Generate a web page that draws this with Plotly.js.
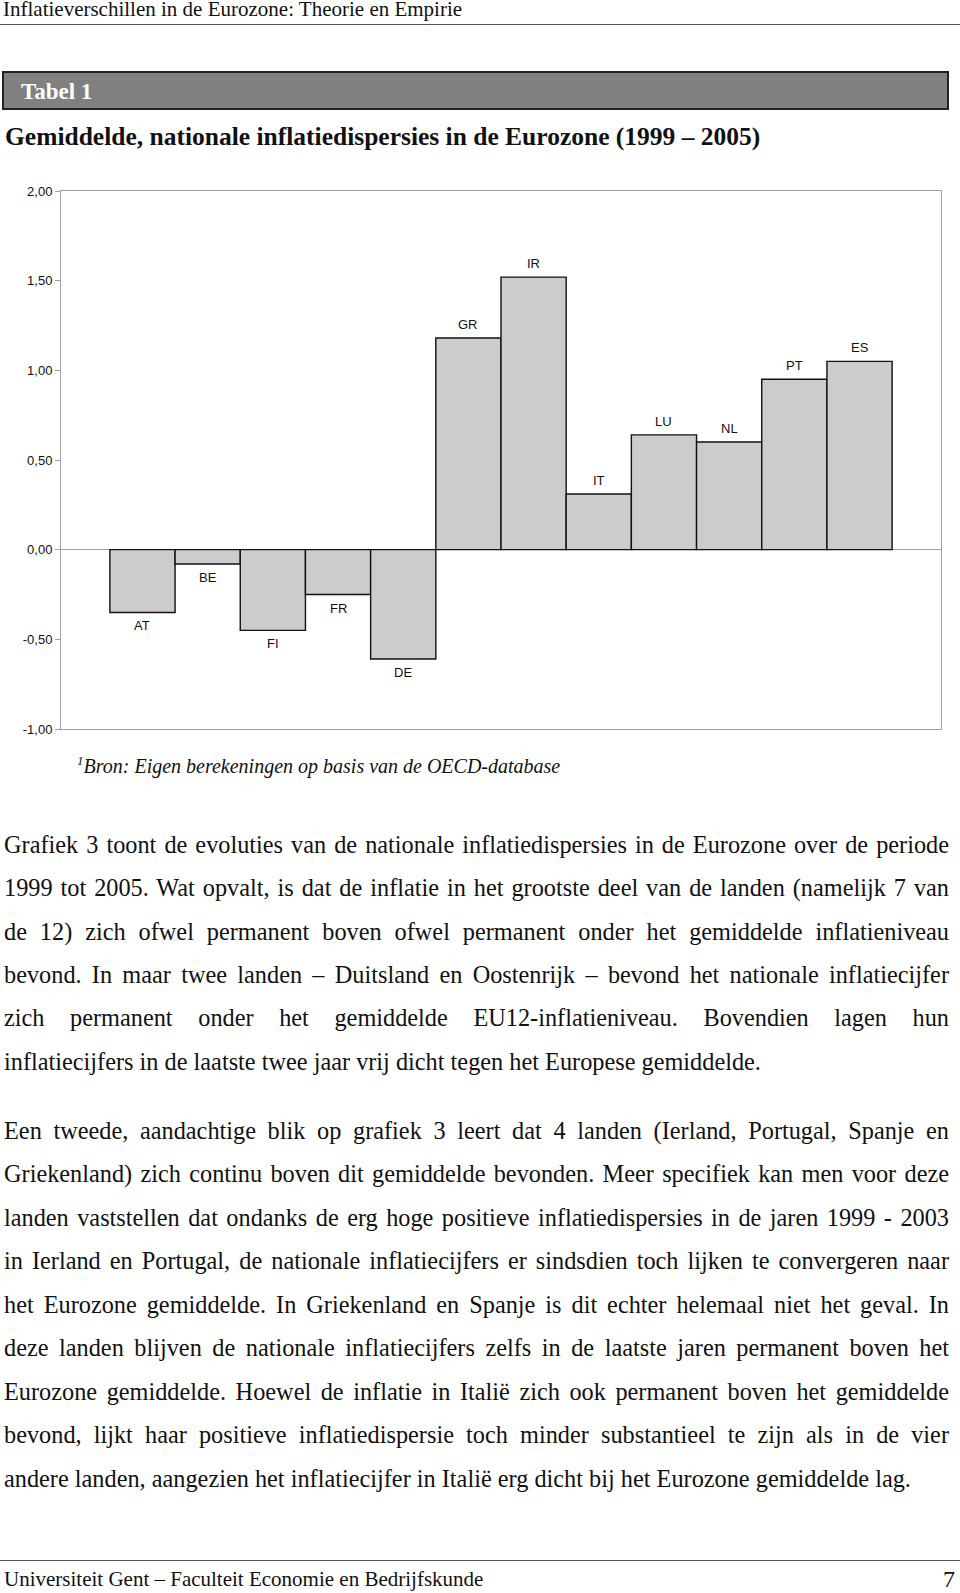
<!DOCTYPE html>
<html>
<head>
<meta charset="utf-8">
<script src="https://cdn.plot.ly/plotly-3.0.1.min.js"></script>
<style>
  html, body { margin: 0; padding: 0; background: #fff; }
  body { width: 960px; height: 1593px; position: relative; overflow: hidden;
         font-family: "Liberation Serif", "Times New Roman", serif; color: #111; }
  .abs { position: absolute; white-space: nowrap; line-height: 1; }
  .hline { position: absolute; left: 0; width: 960px; height: 1.4px; background: #555; }
  .bl { position: absolute; left: 4px; width: 945px; font-size: 24.3px; line-height: 24.3px;
        text-align: justify; text-align-last: justify; white-space: nowrap; }
  .bl.last { text-align: left; text-align-last: left; }
  #chart { position: absolute; left: 0; top: 175px; width: 960px; height: 570px; }
</style>
</head>
<body>
<div class="abs" style="left:3px; top:0px; font-size:21px; line-height:18px;">Inflatieverschillen in de Eurozone: Theorie en Empirie</div>
<div class="hline" style="top:23.5px;"></div>

<div style="position:absolute; left:2px; top:71px; width:943px; height:35px; background:#808080; border:2px solid #222;"></div>
<div class="abs" style="left:21px; top:79.7px; font-size:23px; font-weight:bold; color:#fff;">Tabel 1</div>
<div class="abs" style="left:5px; top:124.3px; font-size:25.5px; font-weight:bold;">Gemiddelde, nationale inflatiedispersies in de Eurozone (1999 – 2005)</div>

<div id="chart"></div>

<div class="abs" style="left:77px; top:756.3px; font-size:20px; font-style:italic;"><span style="font-size:13px; position:relative; top:-8px;">1</span>Bron: Eigen berekeningen op basis van de OECD-database</div>

<div id="text"></div>

<div class="hline" style="top:1559.5px;"></div>
<div class="abs" style="left:4px; top:1569.4px; font-size:21px;">Universiteit Gent – Faculteit Economie en Bedrijfskunde</div>
<div class="abs" style="right:5px; top:1567px; font-size:24px;">7</div>

<script>
// ---- chart data ----
const countries = ['AT','BE','FI','FR','DE','GR','IR','IT','LU','NL','PT','ES'];
const dispersion = [-0.35, -0.08, -0.45, -0.25, -0.61, 1.18, 1.52, 0.31, 0.64, 0.60, 0.95, 1.05];
const yTickVals = [-1, -0.5, 0, 0.5, 1, 1.5, 2];
const yTickText = ['-1,00', '-0,50', '0,00', '0,50', '1,00', '1,50', '2,00'];

// ---- page text ----
const para1 = [
  'Grafiek 3 toont de evoluties van de nationale inflatiedispersies in de Eurozone over de periode',
  '1999 tot 2005. Wat opvalt, is dat de inflatie in het grootste deel van de landen (namelijk 7 van',
  'de 12) zich ofwel permanent boven ofwel permanent onder het gemiddelde inflatieniveau',
  'bevond. In maar twee landen – Duitsland en Oostenrijk – bevond het nationale inflatiecijfer',
  'zich permanent onder het gemiddelde EU12-inflatieniveau. Bovendien lagen hun',
  'inflatiecijfers in de laatste twee jaar vrij dicht tegen het Europese gemiddelde.'
];
const para2 = [
  'Een tweede, aandachtige blik op grafiek 3 leert dat 4 landen (Ierland, Portugal, Spanje en',
  'Griekenland) zich continu boven dit gemiddelde bevonden. Meer specifiek kan men voor deze',
  'landen vaststellen dat ondanks de erg hoge positieve inflatiedispersies in de jaren 1999 - 2003',
  'in Ierland en Portugal, de nationale inflatiecijfers er sindsdien toch lijken te convergeren naar',
  'het Eurozone gemiddelde. In Griekenland en Spanje is dit echter helemaal niet het geval. In',
  'deze landen blijven de nationale inflatiecijfers zelfs in de laatste jaren permanent boven het',
  'Eurozone gemiddelde. Hoewel de inflatie in Italië zich ook permanent boven het gemiddelde',
  'bevond, lijkt haar positieve inflatiedispersie toch minder substantieel te zijn als in de vier',
  'andere landen, aangezien het inflatiecijfer in Italië erg dicht bij het Eurozone gemiddelde lag.'
];

(function renderText() {
  const host = document.getElementById('text');
  const step = 43.45;
  function addPara(lines, firstBaseline) {
    lines.forEach((t, i) => {
      const d = document.createElement('div');
      d.className = 'bl' + (i === lines.length - 1 ? ' last' : '');
      d.style.top = (firstBaseline + i * step - 20.35) + 'px';
      d.textContent = t;
      host.appendChild(d);
    });
  }
  addPara(para1, 853);
  addPara(para2, 1139.3);
})();

const trace = {
  type: 'bar',
  x: countries,
  y: dispersion,
  marker: { color: '#cccccc', line: { color: '#111111', width: 1.4 } },
  hoverinfo: 'x+y'
};

const annotations = countries.map((c, i) => ({
  x: c, y: dispersion[i], xref: 'x', yref: 'y',
  text: c, showarrow: false,
  yanchor: 'middle', xanchor: 'center',
  yshift: dispersion[i] >= 0 ? 13.5 : -13.5,
  font: { family: 'Liberation Sans, Arial, sans-serif', size: 13, color: '#111' }
}));

const layout = {
  width: 960, height: 570,
  margin: { l: 61, r: 19, t: 16, b: 16, pad: 0 },
  paper_bgcolor: 'rgba(0,0,0,0)',
  plot_bgcolor: '#ffffff',
  showlegend: false,
  bargap: 0,
  font: { family: 'Liberation Sans, Arial, sans-serif', size: 13, color: '#111' },
  xaxis: {
    type: 'category',
    range: [-1.25, 12.25],
    showticklabels: false, ticks: '', showgrid: false, zeroline: false,
    showline: true, linecolor: '#a0a0a0', linewidth: 1, mirror: true,
    fixedrange: true
  },
  yaxis: {
    range: [-1, 2],
    tickvals: yTickVals, ticktext: yTickText,
    ticks: 'outside', ticklen: 5, tickcolor: '#a0a0a0', tickwidth: 1,
    showgrid: false,
    zeroline: true, zerolinecolor: '#a0a0a0', zerolinewidth: 1,
    showline: true, linecolor: '#a0a0a0', linewidth: 1, mirror: true,
    tickfont: { family: 'Liberation Sans, Arial, sans-serif', size: 13, color: '#111' },
    fixedrange: true
  },
  annotations: annotations
};

Plotly.newPlot('chart', [trace], layout, { displayModeBar: false, staticPlot: true });
</script>
</body>
</html>
